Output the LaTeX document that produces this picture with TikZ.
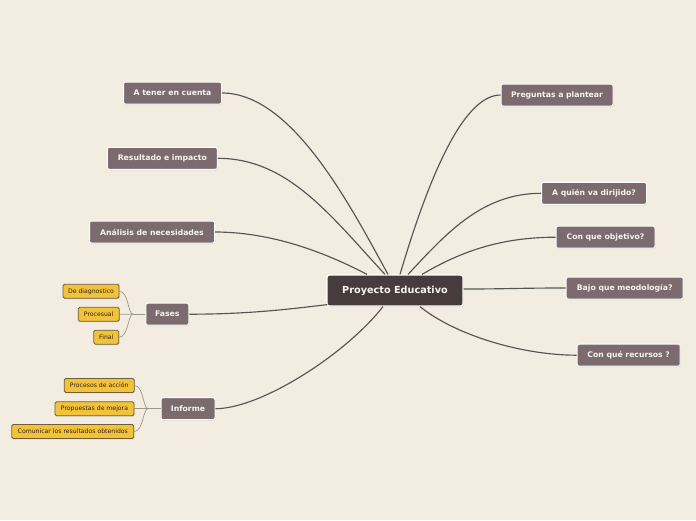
\documentclass[tikz,border=0pt]{standalone}
\usepackage{fontspec}
\setmainfont{DejaVu Sans}
\usetikzlibrary{calc,shadows}
\definecolor{bg}{HTML}{F3EDE1}
\definecolor{cenfill}{HTML}{463B3D}
\definecolor{mainfill}{HTML}{7B6B6F}
\definecolor{subfill}{HTML}{F2C23A}
\definecolor{subborder}{HTML}{6E5E3E}
\definecolor{linkcol}{HTML}{555555}
\definecolor{sublink}{HTML}{9E978C}
\definecolor{subtext}{HTML}{2E2618}
\definecolor{toptext}{HTML}{F8F4F4}
\tikzset{
  centre/.style={draw=white, line width=1.2pt, fill=cenfill, rounded corners=2.5pt,
    text=toptext, font=\fontsize{9.7}{11}\selectfont\bfseries, minimum width=136pt,
    minimum height=31pt, inner sep=0pt,
    drop shadow={shadow xshift=0.6pt, shadow yshift=-1pt, opacity=0.25}},
  topic/.style={draw=white, line width=1pt, fill=mainfill, rounded corners=2pt,
    text=toptext, font=\fontsize{7.7}{9}\selectfont\bfseries,
    minimum height=22pt, inner sep=0pt,
    drop shadow={shadow xshift=0.6pt, shadow yshift=-1pt, opacity=0.25}},
  subtopic/.style={draw=subborder, line width=0.8pt, fill=subfill, rounded corners=1.5pt,
    text=subtext, font=\fontsize{6.15}{7}\selectfont,
    minimum height=14pt, inner sep=0pt,
    drop shadow={shadow xshift=0.5pt, shadow yshift=-0.8pt, opacity=0.25}},
  link/.style={draw=linkcol, line width=1.15pt},
  sublinkst/.style={draw=sublink, line width=0.7pt},
}
\begin{document}
\begin{tikzpicture}[x=1pt,y=-1pt]
\fill[bg] (0,0) rectangle (696,520);
\useasboundingbox (0,0) rectangle (696,520);

\coordinate (pcen) at (395,290.5);

% nodes
\node[centre] (cen) at (pcen) {Proyecto Educativo};

\node[topic, minimum width=98pt]  (t1) at (172.5,93)   {A tener en cuenta};
\node[topic, minimum width=110pt] (t2) at (162.3,158.3) {Resultado e impacto};
\node[topic, minimum width=125pt] (t3) at (152,232)    {Análisis de necesidades};
\node[topic, minimum width=43pt]  (t4) at (167.3,314.2) {Fases};
\node[topic, minimum width=54pt]  (t5) at (188,408.7)  {Informe};

\node[topic, minimum width=112pt] (r1) at (557,95)     {Preguntas a plantear};
\node[topic, minimum width=105pt] (r2) at (594,193.3)  {A quién va dirijido?};
\node[topic, minimum width=99pt]  (r3) at (605.5,237.2) {Con que objetivo?};
\node[topic, minimum width=117pt] (r4) at (624.7,288)  {Bajo que meodología?};
\node[topic, minimum width=103pt] (r5) at (628.7,355.2) {Con qué recursos ?};

\node[subtopic, minimum width=56pt]  (s1) at (91,291.3)   {De diagnostico};
\node[subtopic, minimum width=41pt]  (s2) at (98.7,314.3) {Procesual};
\node[subtopic, minimum width=25pt]  (s3) at (106.3,337.2) {Final};
\node[subtopic, minimum width=70pt]  (s4) at (99.2,385.5) {Procesos de acción};
\node[subtopic, minimum width=79pt]  (s5) at (94.5,408.7) {Propuestas de mejora};
\node[subtopic, minimum width=122pt] (s6) at (72.8,431.5) {Comunicar los resultados obtenidos};

% attachment points on the central node
\coordinate (a1) at ($(cen.north)+(-7,0)$);
\coordinate (a2) at ($(cen.north)+(-10,0)$);
\coordinate (a3) at ($(cen.north)+(-28,0)$);
\coordinate (a4) at ($(cen.south west)+(1,-2)$);
\coordinate (a5) at ($(cen.south)+(-12,0)$);
\coordinate (b1) at ($(cen.north)+(5,0)$);
\coordinate (b2) at ($(cen.north)+(13,0)$);
\coordinate (b3) at ($(cen.north)+(27,0)$);
\coordinate (b4) at ($(cen.east)+(0,-1.5)$);
\coordinate (b5) at ($(cen.south)+(25,0)$);

\draw[link] (t1.east) .. controls +(70,0) and (350,205) .. (a1);
\draw[link] (t2.east) .. controls +(70,0) and (330,215) .. (a2);
\draw[link] (t3.east) .. controls +(60,0) and (330,255) .. (a3);
\draw[link] (t4.east) .. controls +(60,0) and (290,309) .. (a4);
\draw[link] (t5.east) .. controls +(45,0) and (345,355) .. (a5);
\draw[link] (r1.west) .. controls +(-40,0) and (425,190) .. (b1);
\draw[link] (r2.west) .. controls +(-60,0) and (445,235) .. (b2);
\draw[link] (r3.west) .. controls +(-60,0) and (455,255) .. (b3);
\draw[link] (r4.west) .. controls +(-50,0) and (510,289) .. (b4);
\draw[link] (r5.west) .. controls +(-55,0) and (455,335) .. (b5);

% sub-topic brackets
\coordinate (jf) at (133,314.2);
\coordinate (ji) at (148,408.7);
\draw[sublinkst] (t4.west) -- (jf);
\draw[sublinkst] (s1.east) .. controls +(9,0) and +(-5,0) .. (jf);
\draw[sublinkst] (s2.east) -- (jf);
\draw[sublinkst] (s3.east) .. controls +(9,0) and +(-5,0) .. (jf);
\draw[sublinkst] (t5.west) -- (ji);
\draw[sublinkst] (s4.east) .. controls +(9,0) and +(-5,0) .. (ji);
\draw[sublinkst] (s5.east) -- (ji);
\draw[sublinkst] (s6.east) .. controls +(9,0) and +(-5,0) .. (ji);
\end{tikzpicture}
\end{document}
